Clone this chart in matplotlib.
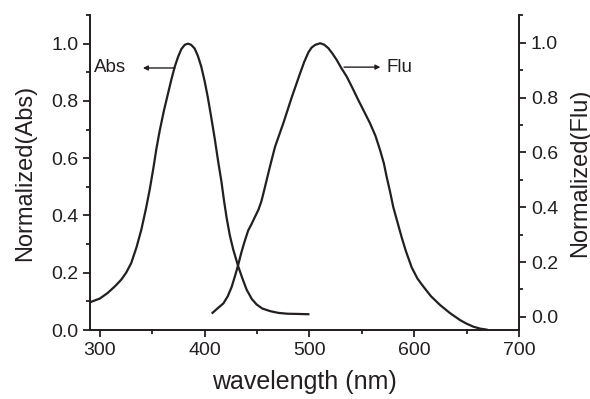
import matplotlib
matplotlib.use("Agg")
import matplotlib.pyplot as plt
from matplotlib.ticker import MultipleLocator

plt.rcParams['font.family'] = ['Liberation Sans', 'DejaVu Sans']

INK = '#231f20'

abs_nm = [290.5, 300, 307.6, 315, 320.4, 325, 329.9, 335, 339.5, 344, 347.5, 351,
          354, 357, 361, 365, 368, 371.3, 374.5, 377.7, 381, 384, 387, 390.4, 393.5,
          396.7, 400, 403, 406, 409.5, 413, 415.9, 418.5, 421, 424, 427.3, 432, 436, 440,
          445, 449.6, 455, 462.4, 470, 478.3, 490, 500]
abs_val = [0.097, 0.11, 0.13, 0.155, 0.176, 0.20, 0.234, 0.29, 0.35, 0.425, 0.49, 0.565,
           0.635, 0.695, 0.765, 0.826, 0.872, 0.918, 0.953, 0.981, 0.996, 1.0, 0.996, 0.983, 0.957,
           0.92, 0.868, 0.812, 0.748, 0.67, 0.585, 0.52, 0.45, 0.39, 0.33, 0.28, 0.222, 0.18, 0.141,
           0.108, 0.089, 0.075, 0.066, 0.06, 0.057, 0.056, 0.055]

flu_nm = [406.7, 412, 417.8, 422, 425.8, 429, 432, 435, 438.5, 441.5, 444.9, 448,
          451.2, 454, 456, 459.2, 462.4, 467.1, 475, 483, 491, 495, 499, 502, 505.4,
          510.2, 514, 518, 522, 526, 530, 535.6, 541, 546.7, 552, 557.8, 563, 567.4,
          571, 573.7, 577, 580, 584, 588, 592, 597.6, 603, 608.8, 616, 624.7, 634,
          643.8, 650, 656.5, 663, 670]
flu_val = [0.012, 0.03, 0.049, 0.075, 0.11, 0.15, 0.19, 0.235, 0.28, 0.315, 0.34, 0.365,
           0.39, 0.42, 0.45, 0.5, 0.55, 0.62, 0.706, 0.80, 0.888, 0.93, 0.965, 0.982, 0.992,
           0.998, 0.993, 0.98, 0.96, 0.937, 0.91, 0.876, 0.835, 0.79, 0.75, 0.706, 0.66, 0.608,
           0.56, 0.51, 0.455, 0.40, 0.345, 0.29, 0.24, 0.18, 0.14, 0.11, 0.075, 0.043, 0.014,
           -0.012, -0.025, -0.036, -0.043, -0.047]

x_ticks = [300, 400, 500, 600, 700]
y_ticks = [0.0, 0.2, 0.4, 0.6, 0.8, 1.0]

fig = plt.figure(figsize=(5.9, 3.99), dpi=100)
ax = fig.add_axes([0.1525, 0.1729, 0.7272, 0.7895])
ax2 = ax.twinx()

ax.plot(abs_nm, abs_val, color=INK, lw=1.6, solid_capstyle='butt', solid_joinstyle='round')
ax2.plot(flu_nm, flu_val, color=INK, lw=1.6, solid_capstyle='butt', solid_joinstyle='round')

ax.set_xlim(290.5, 700)
ax.set_ylim(0, 1.10)
ax2.set_ylim(-0.048, 1.101)

ax.set_xticks(x_ticks)
ax.xaxis.set_minor_locator(MultipleLocator(50))
ax.set_yticks(y_ticks)
ax.set_yticklabels([f"{v:.1f}" for v in y_ticks])
ax.yaxis.set_minor_locator(MultipleLocator(0.1))
ax2.set_yticks(y_ticks)
ax2.set_yticklabels([f"{v:.1f}" for v in y_ticks])
ax2.yaxis.set_minor_locator(MultipleLocator(0.1))

for a in (ax, ax2):
    a.spines['top'].set_visible(False)
    for s in a.spines.values():
        s.set_linewidth(1.3)
        s.set_color(INK)
    a.tick_params(which='major', direction='out', length=5, width=1.3, colors=INK,
                  labelsize=14, labelcolor=INK)
    a.tick_params(which='minor', direction='out', length=3, width=1.3, colors=INK)

ax.set_xlabel('wavelength (nm)', fontsize=18, color=INK, labelpad=8)
ax.set_ylabel('Normalized(Abs)', fontsize=17, color=INK, labelpad=11)
ax2.set_ylabel('Normalized(Flu)', fontsize=17, color=INK, labelpad=8)

ax.annotate('', xy=(341, 0.915), xytext=(371.6, 0.915),
            arrowprops=dict(arrowstyle='-|>', color=INK, lw=1.0,
                            mutation_scale=7, shrinkA=0, shrinkB=0))
ax.text(294.5, 0.915, 'Abs', fontsize=13.5, color=INK, ha='left', va='center')
ax.annotate('', xy=(567.7, 0.918), xytext=(533, 0.918),
            arrowprops=dict(arrowstyle='-|>', color=INK, lw=1.0,
                            mutation_scale=7, shrinkA=0, shrinkB=0))
ax.text(573.4, 0.918, 'Flu', fontsize=13.5, color=INK, ha='left', va='center')

fig.savefig('out.png', dpi=100)
